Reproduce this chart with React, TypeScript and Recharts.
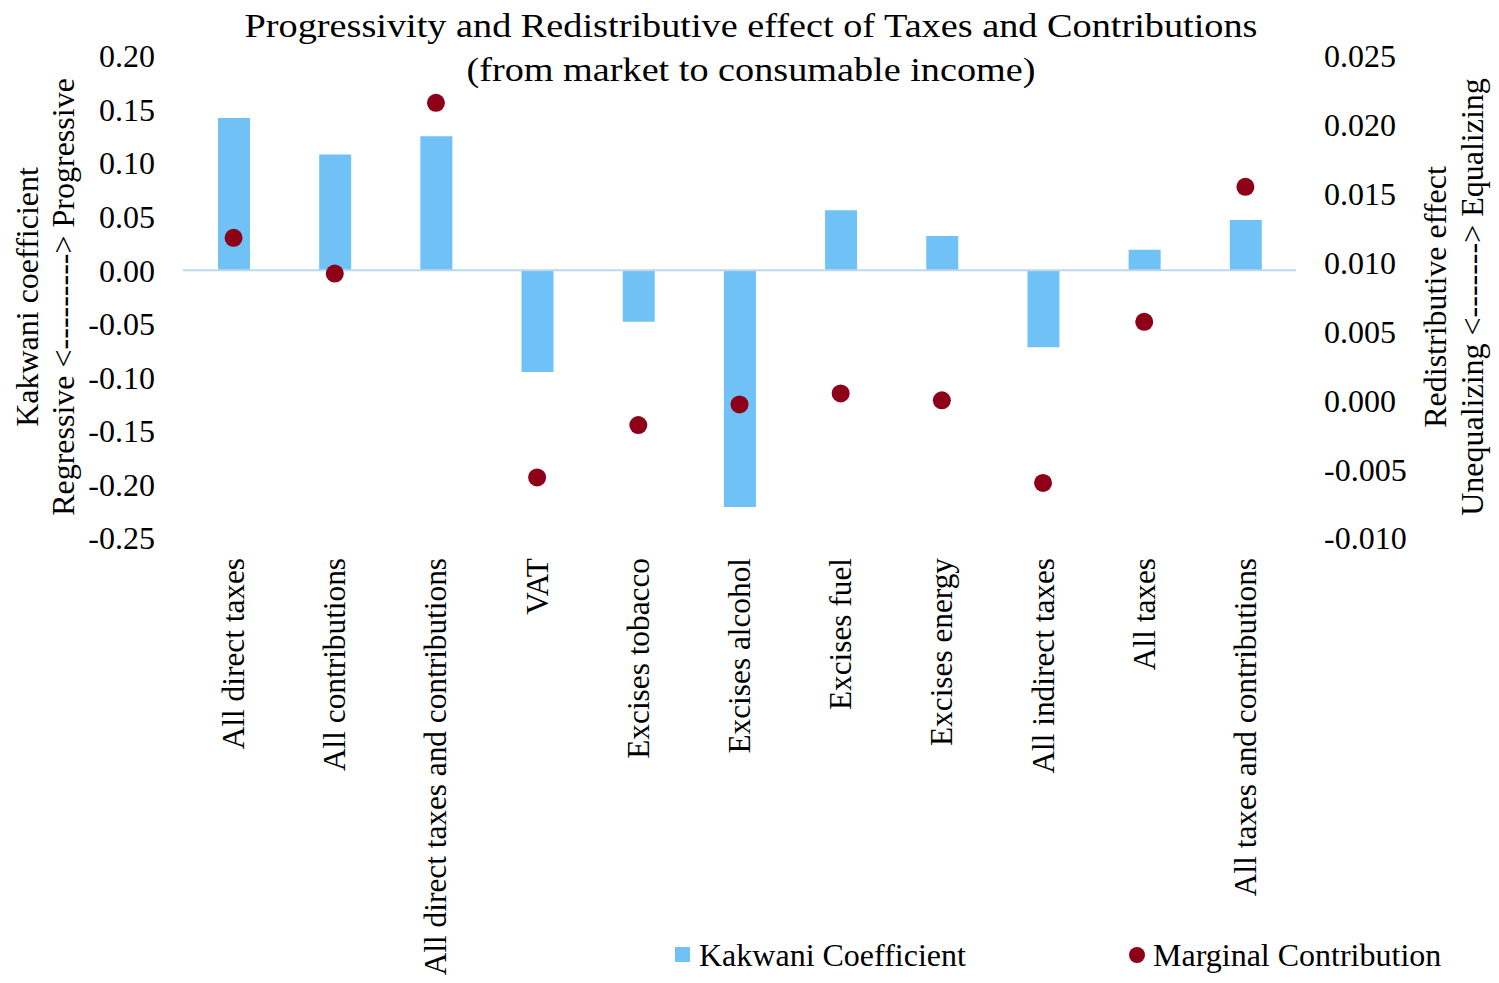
import React from 'react';
import { ComposedChart, Bar, Line, XAxis, YAxis, ReferenceLine } from 'recharts';

const categories = [
  'All direct taxes',
  'All contributions',
  'All direct taxes and contributions',
  'VAT',
  'Excises tobacco',
  'Excises alcohol',
  'Excises fuel',
  'Excises energy',
  'All indirect taxes',
  'All taxes',
  'All taxes and contributions',
];
const kakwani = [0.142, 0.108, 0.125, -0.095, -0.048, -0.221, 0.056, 0.032, -0.072, 0.019, 0.047];
const marginal = [0.0118, 0.0092, 0.0216, -0.0056, -0.0018, -0.0003, 0.0005, 0.0, -0.006, 0.0057, 0.0155];
const leftTicks = [-0.25, -0.2, -0.15, -0.1, -0.05, 0, 0.05, 0.1, 0.15, 0.2];
const rightTicks = [-0.01, -0.005, 0, 0.005, 0.01, 0.015, 0.02, 0.025];

const data = categories.map((c, i) => ({ name: c, kakwani: kakwani[i], marginal: marginal[i] }));

const FONT = '"Liberation Serif", "Times New Roman", serif';
const BLUE = '#6FC1F6';
const RED = '#8E0018';

const XTick = (props: any) => {
  const { x, y, payload } = props;
  return (
    <text
      transform={`translate(${x},${y + 12}) rotate(-90)`}
      textAnchor="end"
      dominantBaseline="central"
      fontFamily={FONT}
      fontSize={31.3}
      fill="#000"
    >
      {payload.value}
    </text>
  );
};

export default function App() {
  return (
    <div style={{ position: 'absolute', left: 0, top: 0, width: 1499, height: 983, background: '#fff' }}>
      <ComposedChart
        width={1499}
        height={983}
        data={data}
        margin={{ top: 56, right: 0, bottom: 0, left: 0 }}
        barCategoryGap={0}
      >
        <XAxis
          dataKey="name"
          height={445}
          axisLine={false}
          tickLine={false}
          interval={0}
          tick={<XTick />}
        />
        <YAxis
          yAxisId="left"
          width={183}
          domain={[-0.25, 0.2]}
          ticks={leftTicks}
          tickFormatter={(v: number) => v.toFixed(2)}
          axisLine={false}
          tickLine={false}
          tickSize={0}
          tickMargin={28}
          tick={{ fontFamily: FONT, fontSize: 32, fill: '#000' }}
          allowDataOverflow
        />
        <YAxis
          yAxisId="right"
          orientation="right"
          width={203}
          domain={[-0.01, 0.025]}
          ticks={rightTicks}
          tickFormatter={(v: number) => v.toFixed(3)}
          axisLine={false}
          tickLine={false}
          tickSize={0}
          tickMargin={28}
          tick={{ fontFamily: FONT, fontSize: 32, fill: '#000' }}
          allowDataOverflow
        />
        <Bar yAxisId="left" dataKey="kakwani" fill={BLUE} barSize={32} isAnimationActive={false} />
        <ReferenceLine yAxisId="left" y={0} stroke="#BDD7EE" strokeWidth={2} />
        <Line
          yAxisId="right"
          dataKey="marginal"
          stroke="none"
          dot={{ r: 9, fill: RED, stroke: 'none' }}
          activeDot={false}
          isAnimationActive={false}
        />
      </ComposedChart>
      <svg
        width={1499}
        height={983}
        style={{ position: 'absolute', left: 0, top: 0, pointerEvents: 'none' }}
        fontFamily={FONT}
      >
        <text x={751} y={37} textAnchor="middle" fontSize={33} textLength={1013} lengthAdjust="spacingAndGlyphs" fill="#000">
          Progressivity and Redistributive effect of Taxes and Contributions
        </text>
        <text x={751} y={81} textAnchor="middle" fontSize={33} textLength={569} lengthAdjust="spacingAndGlyphs" fill="#000">
          (from market to consumable income)
        </text>
        <text transform="translate(27,297) rotate(-90)" textAnchor="middle" dominantBaseline="central" fontSize={32} fill="#000">
          Kakwani coefficient
        </text>
        <text transform="translate(63,297) rotate(-90)" textAnchor="middle" dominantBaseline="central" fontSize={32} fill="#000">
          Regressive &lt;---------&gt; Progressive
        </text>
        <text transform="translate(1435,297) rotate(-90)" textAnchor="middle" dominantBaseline="central" fontSize={32} fill="#000">
          Redistributive effect
        </text>
        <text transform="translate(1472,297) rotate(-90)" textAnchor="middle" dominantBaseline="central" fontSize={32} fill="#000">
          Unequalizing &lt;-------&gt; Equalizing
        </text>
        <rect x={675} y={947} width={15} height={15} fill={BLUE} />
        <text x={699} y={955} dominantBaseline="central" fontSize={32} fill="#000">
          Kakwani Coefficient
        </text>
        <circle cx={1137} cy={955} r={8} fill={RED} />
        <text x={1153} y={955} dominantBaseline="central" fontSize={32} fill="#000">
          Marginal Contribution
        </text>
      </svg>
    </div>
  );
}
